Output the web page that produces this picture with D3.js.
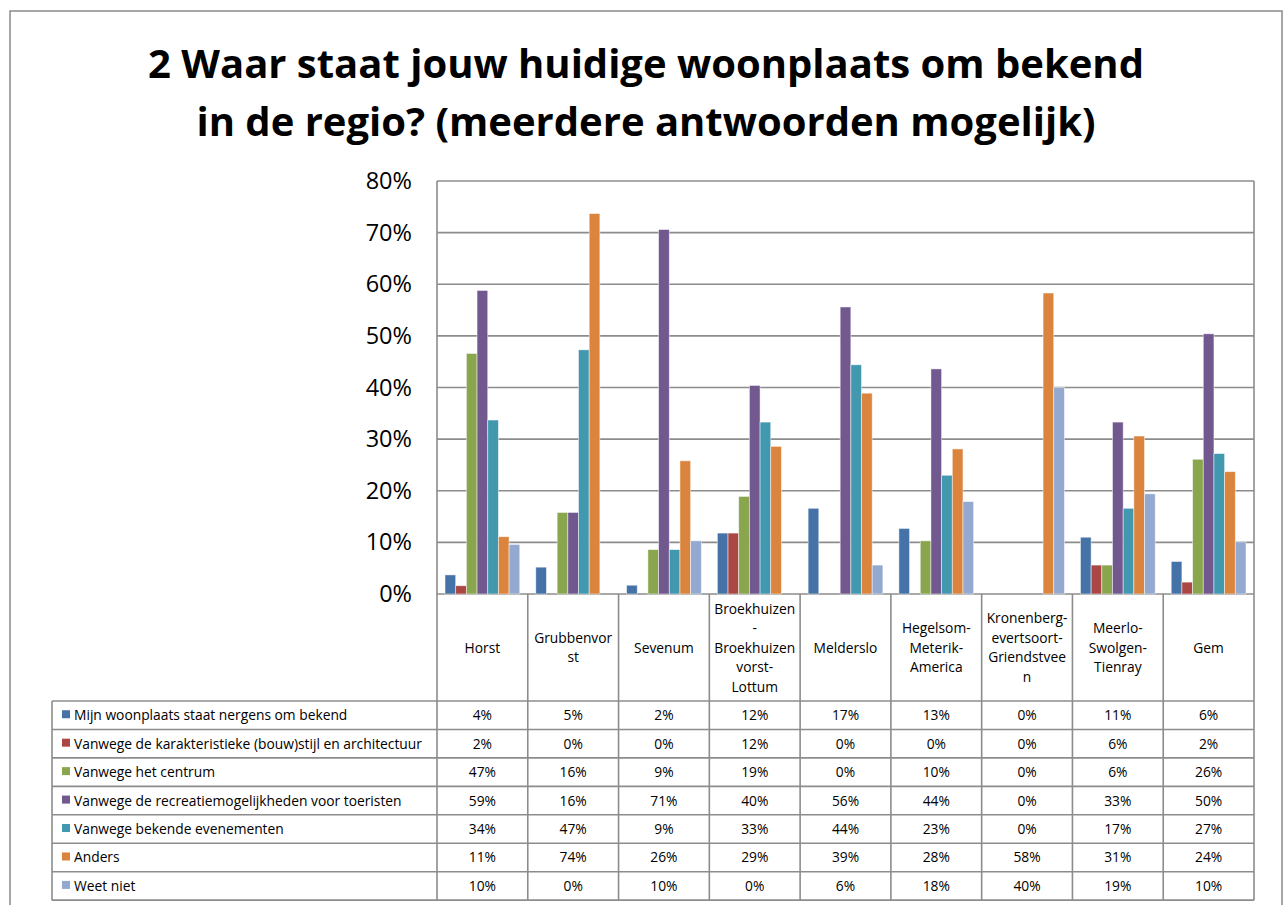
<!DOCTYPE html>
<html>
<head>
<meta charset="utf-8">
<script src="https://cdn.jsdelivr.net/npm/d3@7"></script>
<style>
  body { margin: 0; background: #fff; }
  svg { display: block; font-family: "Open Sans", "Noto Sans", sans-serif; }
</style>
</head>
<body>
<svg id="chart" width="1285" height="905"></svg>
<script>
// categories (header labels, "|" = line break as in the original)
const categories = [
  "Horst", "Grubbenvor|st", "Sevenum", "Broekhuizen|-|Broekhuizen|vorst-|Lottum",
  "Melderslo", "Hegelsom-|Meterik-|America", "Kronenberg-|evertsoort-|Griendstvee|n",
  "Meerlo-|Swolgen-|Tienray", "Gem"
];

const seriesNames = [
  "Mijn woonplaats staat nergens om bekend",
  "Vanwege de karakteristieke (bouw)stijl en architectuur",
  "Vanwege het centrum",
  "Vanwege de recreatiemogelijkheden voor toeristen",
  "Vanwege bekende evenementen",
  "Anders",
  "Weet niet"
];

// values in percent, one array per series, in category order
const nergens      = [3.7, 5.2, 1.7, 11.8, 16.6, 12.7, 0, 11.0, 6.3];
const bouwstijl    = [1.6, 0, 0, 11.8, 0, 0, 0, 5.6, 2.3];
const centrum      = [46.6, 15.8, 8.6, 18.9, 0, 10.3, 0, 5.6, 26.1];
const recreatie    = [58.8, 15.8, 70.6, 40.4, 55.6, 43.6, 0, 33.3, 50.4];
const evenementen  = [33.7, 47.3, 8.6, 33.3, 44.4, 23.0, 0, 16.6, 27.2];
const anders       = [11.1, 73.7, 25.8, 28.6, 38.9, 28.1, 58.3, 30.6, 23.7];
const weetNiet     = [9.6, 0, 10.3, 0, 5.6, 17.9, 40.0, 19.4, 10.1];

const seriesValues = [nergens, bouwstijl, centrum, recreatie, evenementen, anders, weetNiet];
const yTicks = [0, 10, 20, 30, 40, 50, 60, 70, 80];

const colors = ["#4572A7", "#AA4643", "#89A54E", "#71588F", "#4198AF", "#DB843D", "#93A9CF"];
const titleLines = [
  "2 Waar staat jouw huidige woonplaats om bekend",
  "in de regio? (meerdere antwoorden mogelijk)"
];

const svg = d3.select("#chart");
const lineColor = "#8c8c8c";
const tableFont = "13.8px";

// layout
const plot = {left: 437, right: 1254, top: 181, bottom: 594};
const tableLeft = 52, headerBottom = 701, rowH = 28.45;

// outer frame
svg.append("rect")
  .attr("x", 10).attr("y", 11)
  .attr("width", 1272).attr("height", 920)
  .attr("fill", "none")
  .attr("stroke", "#8a8a8a")
  .attr("stroke-width", 1.5);

// title
svg.append("g")
  .selectAll("text")
  .data(titleLines)
  .join("text")
    .attr("x", 646)
    .attr("y", (d, i) => 78 + i * 58)
    .attr("text-anchor", "middle")
    .style("font-size", "40px")
    .style("font-weight", "bold")
    .text(d => d);

// scales
const x0 = d3.scaleBand()
  .domain(d3.range(categories.length))
  .range([plot.left, plot.right]);

const x1 = d3.scaleBand()
  .domain(d3.range(seriesNames.length))
  .range([0, x0.bandwidth()])
  .paddingOuter(0.75);

const y = d3.scaleLinear()
  .domain([0, 80])
  .range([plot.bottom, plot.top]);

// gridlines
svg.append("g")
  .selectAll("line")
  .data(yTicks)
  .join("line")
    .attr("x1", plot.left).attr("x2", plot.right)
    .attr("y1", d => y(d)).attr("y2", d => y(d))
    .attr("stroke", lineColor)
    .attr("stroke-width", 1.6);

// y axis
const yAxis = svg.append("g")
  .attr("transform", `translate(${plot.left},0)`)
  .call(d3.axisLeft(y).tickValues(yTicks).tickFormat(d => d + "%").tickSize(0).tickPadding(25));
yAxis.select(".domain").remove();
yAxis.selectAll("text")
  .style("font-family", "\"Open Sans\", sans-serif")
  .style("font-size", "23.5px")
  .attr("fill", "#000");

// bars
svg.append("g")
  .selectAll("g")
  .data(seriesValues)
  .join("g")
    .attr("fill", (d, i) => colors[i])
  .each(function(vals, si) {
    d3.select(this).selectAll("rect")
      .data(vals)
      .join("rect")
        .attr("x", (d, ci) => x0(ci) + x1(si))
        .attr("y", d => y(d))
        .attr("width", x1.bandwidth())
        .attr("height", d => y(0) - y(d))
        .attr("stroke", "#fff")
        .attr("stroke-opacity", 0.6)
        .attr("stroke-width", 0.8);
  });

// table lines
const tableBottom = headerBottom + rowH * seriesNames.length;
const tbl = svg.append("g")
  .attr("stroke", lineColor)
  .attr("stroke-width", 1.6);

// verticals: category borders through header and rows
const vx = d3.range(categories.length + 1).map(i => i < categories.length ? x0(i) : plot.right);
tbl.selectAll(".v")
  .data(vx)
  .join("line")
    .attr("x1", d => d).attr("x2", d => d)
    .attr("y1", (d, i) => i === 0 ? plot.top : plot.bottom)
    .attr("y2", tableBottom);
tbl.append("line")
  .attr("x1", plot.right).attr("x2", plot.right)
  .attr("y1", plot.top).attr("y2", plot.bottom);
tbl.append("line")
  .attr("x1", tableLeft).attr("x2", tableLeft)
  .attr("y1", headerBottom).attr("y2", tableBottom);
// horizontals
tbl.selectAll(".h")
  .data(d3.range(seriesNames.length + 1))
  .join("line")
    .attr("x1", tableLeft).attr("x2", plot.right)
    .attr("y1", d => headerBottom + d * rowH)
    .attr("y2", d => headerBottom + d * rowH);

// header labels
const headerMid = (plot.bottom + headerBottom) / 2;
const lineH = 19.5;
svg.append("g")
  .selectAll("text")
  .data(categories)
  .join("text")
    .attr("x", (d, i) => x0(i) + x0.bandwidth() / 2)
    .attr("text-anchor", "middle")
    .style("font-size", tableFont)
    .attr("fill", "#000")
  .each(function(d) {
    const parts = d.split("|");
    const startY = headerMid - (parts.length - 1) * lineH / 2 + 5;
    d3.select(this).selectAll("tspan")
      .data(parts)
      .join("tspan")
        .attr("x", d3.select(this).attr("x"))
        .attr("y", (p, j) => startY + j * lineH)
        .text(p => p);
  });

// legend rows
const rows = svg.append("g")
  .selectAll("g")
  .data(seriesNames)
  .join("g")
    .attr("transform", (d, i) => `translate(0,${headerBottom + i * rowH + rowH / 2})`);

rows.append("rect")
  .attr("x", 62).attr("y", -5)
  .attr("width", 8).attr("height", 8)
  .attr("fill", (d, i) => colors[i]);

rows.append("text")
  .attr("x", 74).attr("y", 5)
  .style("font-size", tableFont)
  .attr("fill", "#000")
  .text(d => d);

rows.each(function(d, si) {
  d3.select(this).selectAll(".val")
    .data(seriesValues[si])
    .join("text")
      .attr("x", (v, ci) => x0(ci) + x0.bandwidth() / 2)
      .attr("y", 5)
      .attr("text-anchor", "middle")
      .style("font-size", tableFont)
      .attr("fill", "#000")
      .text(v => Math.round(v) + "%");
});
</script>
</body>
</html>
